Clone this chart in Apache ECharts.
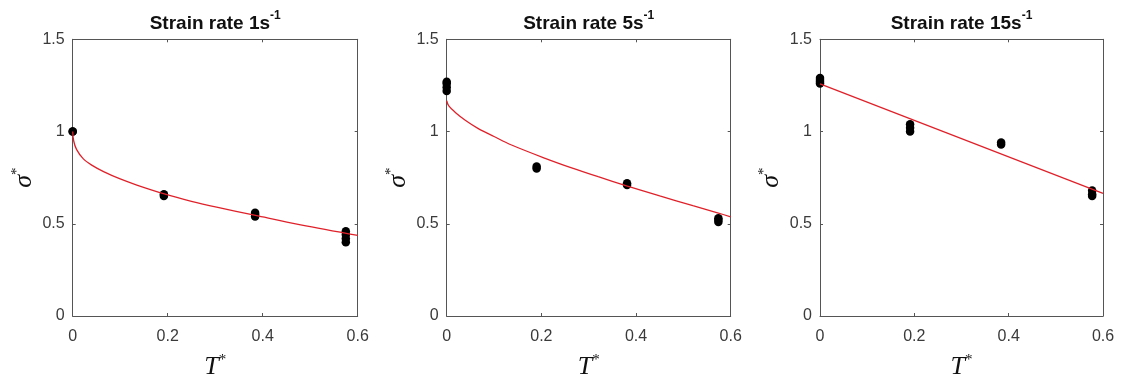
<!DOCTYPE html>
<html>
<head>
<meta charset="utf-8">
<title>Normalised flow stress vs homologous temperature</title>
<script src="https://cdn.jsdelivr.net/npm/echarts@6/dist/echarts.min.js"></script>
<style>
  html, body { margin: 0; padding: 0; background: #ffffff; }
  #chart { width: 1121px; height: 385px; }
</style>
</head>
<body>
<div id="chart"></div>
<script>
// Axis ticks shared by all three panels
const xTicks = [0, 0.2, 0.4, 0.6];
const yTicks = [0, 0.5, 1, 1.5];

// Panel titles (strain rate, s^-1)
const strainRates = ['1', '5', '15'];

// Measured points: homologous temperature T* and normalised stress sigma*
const rate1T     = [0, 0, 0.192, 0.192, 0.384, 0.384, 0.384, 0.575, 0.575, 0.575, 0.575];
const rate1Sigma = [1.0, 1.0, 0.65, 0.66, 0.54, 0.55, 0.56, 0.40, 0.42, 0.44, 0.46];

const rate5T     = [0, 0, 0, 0, 0.19, 0.19, 0.381, 0.381, 0.574, 0.574, 0.574];
const rate5Sigma = [1.22, 1.24, 1.26, 1.27, 0.80, 0.81, 0.71, 0.72, 0.51, 0.52, 0.53];

const rate15T     = [0, 0, 0, 0, 0.191, 0.191, 0.191, 0.384, 0.384, 0.577, 0.577, 0.577];
const rate15Sigma = [1.26, 1.27, 1.28, 1.29, 1.00, 1.02, 1.04, 0.93, 0.94, 0.65, 0.66, 0.68];

// Fitted model curves
const fit1T     = [0, 0.002, 0.008, 0.022, 0.04, 0.065, 0.1, 0.135, 0.193, 0.25, 0.303, 0.385, 0.48, 0.6];
const fit1Sigma = [1.0, 0.95, 0.903, 0.853, 0.818, 0.783, 0.743, 0.71, 0.662, 0.622, 0.59, 0.545, 0.494, 0.437];

const fit5T     = [0, 0.004, 0.0176, 0.04, 0.0668, 0.1, 0.137, 0.208, 0.264, 0.32, 0.38, 0.45, 0.52, 0.574, 0.6];
const fit5Sigma = [1.167, 1.14, 1.105, 1.06, 1.016, 0.973, 0.927, 0.855, 0.803, 0.755, 0.706, 0.651, 0.598, 0.558, 0.538];

const fit15T     = [0, 0.6];
const fit15Sigma = [1.258, 0.665];

const pointSets = [[rate1T, rate1Sigma], [rate5T, rate5Sigma], [rate15T, rate15Sigma]];
const fitSets   = [[fit1T, fit1Sigma], [fit5T, fit5Sigma], [fit15T, fit15Sigma]];

// Plot-area placement of each panel
const panels = [
  { left: 72.7,  top: 39.3, width: 285, height: 281.4 },
  { left: 446.7, top: 39.3, width: 284, height: 281.4 },
  { left: 820,   top: 39.3, width: 283, height: 281.4 }
];

const axisColor = '#555555';
const labelColor = '#3a3a3a';
const sansFont = 'Arial, "Liberation Sans", sans-serif';
const serifFont = '"Liberation Serif", "Times New Roman", serif';

const zip = (a, b) => a.map((v, i) => [v, b[i]]);

const grid = [], xAxis = [], yAxis = [], series = [], title = [];

panels.forEach((p, i) => {
  grid.push({ left: p.left, top: p.top, width: p.width, height: p.height, containLabel: false });

  title.push({
    text: 'Strain rate ' + strainRates[i] + 's{sup|-1}',
    left: p.left + p.width / 2,
    top: 10,
    textAlign: 'center',
    padding: 0,
    textStyle: {
      fontFamily: sansFont,
      fontWeight: 'bold',
      fontSize: 19,
      lineHeight: 28,
      color: '#111111',
      rich: {
        sup: { fontFamily: sansFont, fontWeight: 'bold', fontSize: 12, lineHeight: 12,
               verticalAlign: 'top', color: '#111111' }
      }
    }
  });

  const common = {
    type: 'value',
    gridIndex: i,
    splitLine: { show: false },
    axisLine: { show: true, onZero: false, lineStyle: { color: axisColor, width: 1 } },
    axisTick: { show: true, inside: true, length: 3, lineStyle: { color: axisColor, width: 1 } }
  };

  // bottom axis with labels, top axis closes the box
  xAxis.push(Object.assign({}, common, {
    position: 'bottom',
    min: xTicks[0], max: xTicks[xTicks.length - 1], interval: xTicks[1] - xTicks[0],
    axisLabel: { show: true, margin: 13, fontSize: 16, fontFamily: sansFont, color: labelColor },
    name: '{t|T}{s|*}',
    nameLocation: 'middle',
    nameGap: 37,
    nameTextStyle: {
      rich: {
        t: { fontFamily: serifFont, fontStyle: 'italic', fontSize: 26, lineHeight: 28, color: '#111111' },
        s: { fontFamily: serifFont, fontSize: 15, lineHeight: 14, verticalAlign: 'top', color: '#111111' }
      }
    }
  }));
  xAxis.push(Object.assign({}, common, {
    position: 'top',
    min: xTicks[0], max: xTicks[xTicks.length - 1], interval: xTicks[1] - xTicks[0],
    axisLabel: { show: false }
  }));

  // left axis with labels, right axis closes the box
  yAxis.push(Object.assign({}, common, {
    position: 'left',
    min: yTicks[0], max: yTicks[yTicks.length - 1], interval: yTicks[1] - yTicks[0],
    axisLabel: { show: true, margin: 8, fontSize: 16, fontFamily: sansFont, color: labelColor,
                 padding: [3, 0, 0, 0] },
    name: '{t|σ}{s|*}',
    nameLocation: 'middle',
    nameGap: 35,
    nameRotate: 90,
    nameTextStyle: {
      rich: {
        t: { fontFamily: serifFont, fontStyle: 'italic', fontSize: 26, lineHeight: 28, color: '#111111' },
        s: { fontFamily: serifFont, fontSize: 15, lineHeight: 14, verticalAlign: 'top', color: '#111111' }
      }
    }
  }));
  yAxis.push(Object.assign({}, common, {
    position: 'right',
    min: yTicks[0], max: yTicks[yTicks.length - 1], interval: yTicks[1] - yTicks[0],
    axisLabel: { show: false }
  }));

  series.push({
    type: 'scatter',
    xAxisIndex: 2 * i,
    yAxisIndex: 2 * i,
    data: zip(pointSets[i][0], pointSets[i][1]),
    symbol: 'circle',
    symbolSize: 8.5,
    clip: false,
    itemStyle: { color: '#000000', opacity: 1 },
    z: 2
  });
  series.push({
    type: 'line',
    xAxisIndex: 2 * i,
    yAxisIndex: 2 * i,
    data: zip(fitSets[i][0], fitSets[i][1]),
    showSymbol: false,
    smooth: 0.35,
    lineStyle: { color: '#e0212a', width: 1.3 },
    z: 3
  });
});

const chart = echarts.init(document.getElementById('chart'), null, { renderer: 'canvas' });
chart.setOption({
  animation: false,
  backgroundColor: '#ffffff',
  title: title,
  grid: grid,
  xAxis: xAxis,
  yAxis: yAxis,
  series: series
});
</script>
</body>
</html>
